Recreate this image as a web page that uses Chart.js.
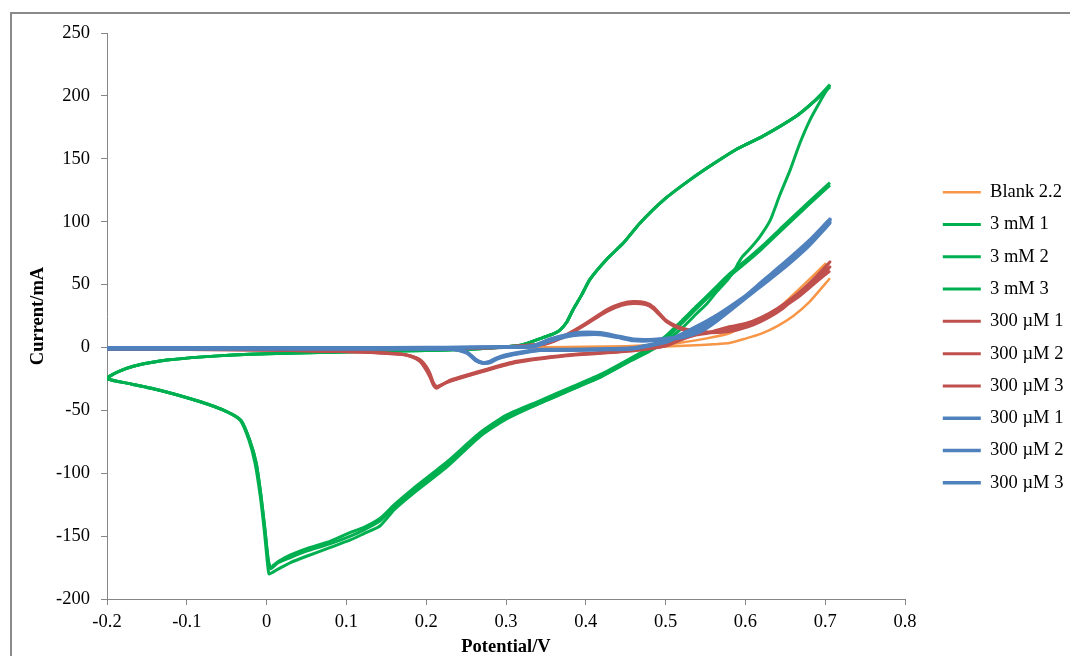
<!DOCTYPE html>
<html>
<head>
<meta charset="utf-8">
<title>Cyclic voltammograms</title>
<script src="https://cdn.jsdelivr.net/npm/chart.js@4.4.1/dist/chart.umd.min.js"></script>
<style>
  html, body { margin: 0; padding: 0; background: #fff; overflow: hidden; }
  #wrap { position: relative; width: 1070px; height: 656px; }
  #frame { position: absolute; left: 10px; top: 12px; right: 0; bottom: 0;
           border-left: 2px solid #8a8a8a; border-top: 2px solid #8a8a8a; pointer-events: none; }
</style>
</head>
<body>
<div id="wrap">
  <canvas id="cv"></canvas>
  <div id="frame"></div>
</div>
<script>
// --- data (potential in V, current in mA) ---

// 3 mM, cycle 1: reverse sweep from the 0.7 V tip, then full loop back to the tip
const G1_X = [0.706, 0.694, 0.681, 0.668, 0.656, 0.643, 0.631, 0.618, 0.605, 0.596, 0.592, 0.589, 0.591, 0.586, 0.578, 0.565, 0.552, 0.539, 0.52, 0.50, 0.48, 0.455, 0.42, 0.384, 0.34, 0.30, 0.267, 0.226, 0.184, 0.16, 0.142, 0.122, 0.105, 0.08, 0.05, 0.03, 0.015, 0.007, 0.003, 0.001, -0.003, -0.008, -0.0145, -0.022, -0.033, -0.05, -0.084, -0.134, -0.17, -0.2, -0.197, -0.185, -0.167, -0.145, -0.125, -0.08, -0.042, 0.0, 0.05, 0.117, 0.2, 0.25, 0.29, 0.32, 0.347, 0.36, 0.368, 0.376, 0.384, 0.395, 0.405, 0.426, 0.447, 0.468, 0.497, 0.53, 0.56, 0.59, 0.622, 0.664, 0.685, 0.706];
const G1_Y = [209, 196, 181, 162, 141, 121, 101, 88, 78, 72, 68, 64, 67, 61, 54, 45, 35, 27, 15, 5, -3, -11, -23, -33, -45, -57, -71, -95, -116, -129, -142, -148, -153, -159, -166, -171, -176, -179, -180, -171, -145, -118, -92, -74, -58, -51, -43, -34, -29, -25, -23, -19, -15, -12, -10, -7.5, -6, -5, -4.3, -3.3, -2.5, -1.5, 0, 2, 8, 11, 14, 20, 30, 42, 54, 70, 83, 99, 117, 133, 146, 158, 168, 184, 195, 209];

// 3 mM, cycles 2 and 3 (start at the lower 0.7 V end)
const G23_X = [0.706, 0.68, 0.65, 0.62, 0.6, 0.581, 0.56, 0.539, 0.52, 0.5, 0.48, 0.455, 0.42, 0.384, 0.34, 0.30, 0.267, 0.226, 0.184, 0.16, 0.142, 0.122, 0.105, 0.08, 0.05, 0.03, 0.015, 0.009, 0.005, 0.002, -0.002, -0.007, -0.013, -0.021, -0.032, -0.05, -0.084, -0.134, -0.17, -0.2, -0.197, -0.185, -0.167, -0.145, -0.125, -0.08, -0.042, 0.0, 0.05, 0.117, 0.2, 0.25, 0.29, 0.32, 0.347, 0.36, 0.368, 0.376, 0.384, 0.395, 0.405, 0.426, 0.447, 0.468, 0.497, 0.53, 0.56, 0.59, 0.622, 0.664, 0.685, 0.706];
const G2_Y = [131, 116, 98, 80, 69, 59, 46, 33, 21, 9, 0, -9, -21, -31, -43, -54, -68, -91, -112, -125, -136, -143, -147, -154, -160, -165, -170, -173, -175, -168, -145, -118, -92, -74, -58, -51, -43, -34, -29, -25, -23, -19, -15, -12, -10, -7.5, -6, -5, -4.3, -3.3, -2.5, -1.5, 0, 2, 8, 11, 14, 20, 30, 42, 54, 70, 83, 99, 117, 133, 146, 158, 168, 184, 195, 208];
const G3_Y = [129, 114, 96, 78, 67, 57, 44, 31, 19, 7, -2, -11, -23, -33, -45, -56, -70, -93, -114, -127, -138, -145, -150, -156, -162, -167, -171, -174, -176, -170, -145, -118, -92, -74, -58, -51, -43, -34, -29, -25, -23, -19, -15, -12, -10, -7.5, -6, -5, -4.3, -3.3, -2.5, -1.5, 0, 2, 8, 11, 14, 20, 30, 42, 54, 70, 83, 99, 117, 133, 146, 158, 168, 184, 195, 207];

// 300 uM (red set)
const RED_X = [-0.2, -0.1, 0.0, 0.1, 0.2, 0.28, 0.32, 0.35, 0.375, 0.397, 0.426, 0.445, 0.46, 0.475, 0.485, 0.5, 0.512, 0.522, 0.543, 0.565, 0.585, 0.61, 0.627, 0.647, 0.664, 0.685, 0.706, 0.685, 0.664, 0.64, 0.62, 0.6, 0.581, 0.56, 0.539, 0.52, 0.501, 0.46, 0.42, 0.376, 0.313, 0.272, 0.23, 0.218, 0.213, 0.209, 0.205, 0.2, 0.192, 0.18, 0.167, 0.13, 0.092, 0.0, -0.1, -0.2];
const RED1_Y = [-1, -1, -1, -0.8, -0.5, 0, 1.5, 3.3, 10, 18, 30, 35, 36.5, 35.5, 32, 22, 17.5, 15, 12.6, 12.5, 14, 19, 24.5, 33, 42, 53, 68, 54, 42, 31, 24, 19, 16.6, 13, 11, 7, 2, -2, -4, -6, -11, -18, -26, -30.5, -32.4, -30, -24, -18, -11, -7, -5.5, -4, -3.3, -2, -1.5, -1.5];
const RED2_Y = [-1.2, -1.2, -1.2, -1, -0.7, -0.2, 1.2, 3, 9.5, 17.5, 29, 34, 35.5, 34.5, 31, 21.5, 17, 14.5, 12.2, 12.2, 13.6, 18.5, 24, 32, 41, 51, 64, 52, 40, 30, 23, 18, 15.8, 12.4, 10.4, 6.5, 1.6, -2.3, -4.3, -6.3, -11.5, -18.5, -26.5, -30, -31, -28, -21, -15, -9.5, -6.5, -5.2, -3.8, -3.1, -2, -1.6, -1.6];
const RED3_Y = [-1.4, -1.4, -1.4, -1.2, -0.9, -0.4, 1, 2.8, 9, 17, 28.5, 33.5, 35, 34, 30.5, 21, 16.5, 14, 12, 11.8, 13.2, 18, 23, 31, 40, 50, 61, 50, 39, 29, 22.5, 17.5, 15.2, 12, 10, 6.2, 1.3, -2.6, -4.6, -6.6, -12, -19, -27, -30.2, -31.8, -29, -23, -16, -10, -6.8, -5.3, -3.9, -3.2, -2.1, -1.7, -1.7];

// 300 uM (blue set)
const BLUE_X = [-0.2, -0.1, 0.0, 0.1, 0.2, 0.25, 0.3, 0.334, 0.355, 0.375, 0.393, 0.418, 0.44, 0.46, 0.485, 0.522, 0.545, 0.564, 0.6, 0.622, 0.65, 0.68, 0.706, 0.68, 0.65, 0.622, 0.6, 0.56, 0.52, 0.501, 0.46, 0.42, 0.376, 0.343, 0.32, 0.3, 0.289, 0.28, 0.271, 0.262, 0.251, 0.235, 0.2, 0.1, 0.0, -0.1, -0.2];
const BLUE1_Y = [-0.5, -0.5, -0.5, -0.5, -0.3, 0, 0.3, 1, 6, 9.5, 11, 11, 8.5, 6, 6, 8.6, 14, 21.9, 40, 52, 67, 84, 101, 82, 65, 51, 40, 23, 10, 4.7, -0.6, -1.5, -2, -2, -4, -6.5, -8.6, -11.5, -12.6, -10, -4, -1.5, -1, -1, -1, -1, -1];
const BLUE2_Y = [-0.7, -0.7, -0.7, -0.7, -0.5, -0.2, 0.1, 0.6, 5, 8.5, 10, 10.3, 8, 5.5, 5.5, 8, 13, 21, 39, 50.5, 65.5, 82, 99, 81, 64, 50, 39, 22, 9.5, 4.2, -1, -1.8, -2.3, -2.3, -4.5, -7, -9, -12, -12.2, -9.5, -3.6, -1.6, -1.1, -1.1, -1.1, -1.1, -1.1];
const BLUE3_Y = [-0.3, -0.3, -0.3, -0.3, -0.1, 0.2, 0.5, 1.4, 6.5, 10, 11.8, 11.6, 9, 6.5, 6.4, 9.2, 14.8, 22.8, 41, 53, 68, 85, 102, 83, 66, 52, 41, 24, 10.6, 5.2, -0.3, -1.2, -1.7, -1.7, -3.6, -6, -8.2, -11, -12.2, -10.4, -4.4, -1.4, -0.9, -0.9, -0.9, -0.9, -0.9];

// Blank 2.2
const OR_X = [0.701, 0.685, 0.67, 0.655, 0.643, 0.62, 0.6, 0.58, 0.55, 0.52, 0.5, 0.45, 0.4, 0.3, 0.2, 0.0, -0.2, 0.0, 0.2, 0.3, 0.4, 0.45, 0.5, 0.53, 0.56, 0.58, 0.6, 0.62, 0.64, 0.66, 0.68, 0.706];
const OR_Y = [67, 57, 48, 39, 32, 23, 17, 11.3, 7, 4, 2.5, 1, 0.5, 0, -0.3, -0.5, -0.5, -0.5, -0.3, -0.2, 0, 0.3, 0.8, 1.5, 2.5, 3.5, 7, 11, 17, 25, 36, 55];

const SERIES_LABELS = ['Blank 2.2', '3 mM 1', '3 mM 2', '3 mM 3', '300 µM 1', '300 µM 2', '300 µM 3', '300 µM 1', '300 µM 2', '300 µM 3'];
const X_TICKS = [-0.2, -0.1, 0, 0.1, 0.2, 0.3, 0.4, 0.5, 0.6, 0.7, 0.8];
const Y_TICKS = [-200, -150, -100, -50, 0, 50, 100, 150, 200, 250];

const ORANGE = '#F79646', GREEN = '#00B050', RED = '#C0504D', BLUE = '#4F81BD';
const FONT = "'Liberation Serif', 'Times New Roman', serif";
const AXIS_GREY = '#868686';

const pts = (xs, ys) => xs.map((x, i) => ({ x, y: ys[i] }));

const series = [
  { xs: OR_X,   ys: OR_Y,    color: ORANGE, w: 2.5 },
  { xs: G1_X,   ys: G1_Y,    color: GREEN,  w: 3 },
  { xs: G23_X,  ys: G2_Y,    color: GREEN,  w: 3 },
  { xs: G23_X,  ys: G3_Y,    color: GREEN,  w: 3 },
  { xs: RED_X,  ys: RED1_Y,  color: RED,    w: 3 },
  { xs: RED_X,  ys: RED2_Y,  color: RED,    w: 3 },
  { xs: RED_X,  ys: RED3_Y,  color: RED,    w: 3 },
  { xs: BLUE_X, ys: BLUE1_Y, color: BLUE,   w: 3.5 },
  { xs: BLUE_X, ys: BLUE2_Y, color: BLUE,   w: 3.5 },
  { xs: BLUE_X, ys: BLUE3_Y, color: BLUE,   w: 3.5 },
];

const datasets = series.map((s, i) => ({
  label: SERIES_LABELS[i],
  data: pts(s.xs, s.ys),
  borderColor: s.color,
  backgroundColor: s.color,
  borderWidth: s.w,
  showLine: true,
  pointRadius: 0,
  tension: 0.2,
  order: series.length - i   // later series on top, like the original
}));

// nudge the legend column to where it sits in the original
const legendNudge = {
  id: 'legendNudge',
  afterLayout(chart) {
    const lg = chart.legend;
    if (!lg) return;
    lg.left += 24; lg.right += 24;
    lg.top -= 7; lg.bottom -= 7;
  }
};

new Chart(document.getElementById('cv'), {
  type: 'scatter',
  data: { datasets },
  plugins: [legendNudge],
  options: {
    responsive: true,
    maintainAspectRatio: false,
    animation: false,
    layout: { padding: { left: 10, top: 33, right: 0, bottom: 0 } },
    plugins: {
      tooltip: { enabled: false },
      legend: {
        position: 'right',
        labels: {
          color: '#000',
          font: { family: FONT, size: 18.5 },
          usePointStyle: true,
          pointStyle: 'line',
          pointStyleWidth: 38,
          padding: 13.8,
          sort: (a, b) => a.datasetIndex - b.datasetIndex
        }
      }
    },
    scales: {
      x: {
        type: 'linear',
        min: -0.2, max: 0.8,
        afterBuildTicks: s => { s.ticks = X_TICKS.map(v => ({ value: v })); },
        afterFit: s => { s.height = 57; s.paddingRight = 165; },
        grid: { drawOnChartArea: false, tickLength: 6, color: AXIS_GREY },
        border: { color: AXIS_GREY, width: 1 },
        ticks: {
          color: '#000', padding: 6, maxRotation: 0,
          font: { family: FONT, size: 18.5 },
          callback: v => String(Math.round(v * 10) / 10)
        },
        title: {
          display: true, text: 'Potential/V', color: '#000',
          font: { family: FONT, size: 18.5, weight: 'bold', lineHeight: 0.9 },
          padding: { top: 0, bottom: 0 }
        }
      },
      y: {
        type: 'linear',
        min: -200, max: 250,
        afterBuildTicks: s => { s.ticks = Y_TICKS.map(v => ({ value: v })); },
        afterFit: s => { s.width = 97; },
        grid: { drawOnChartArea: false, tickLength: 6, color: AXIS_GREY },
        border: { color: AXIS_GREY, width: 1 },
        ticks: { color: '#000', padding: 11, font: { family: FONT, size: 18.5 } },
        title: {
          display: true, text: 'Current/mA', color: '#000',
          font: { family: FONT, size: 18.5, weight: 'bold' },
          padding: { top: 17, bottom: 0 }
        }
      }
    }
  }
});
</script>
</body>
</html>
